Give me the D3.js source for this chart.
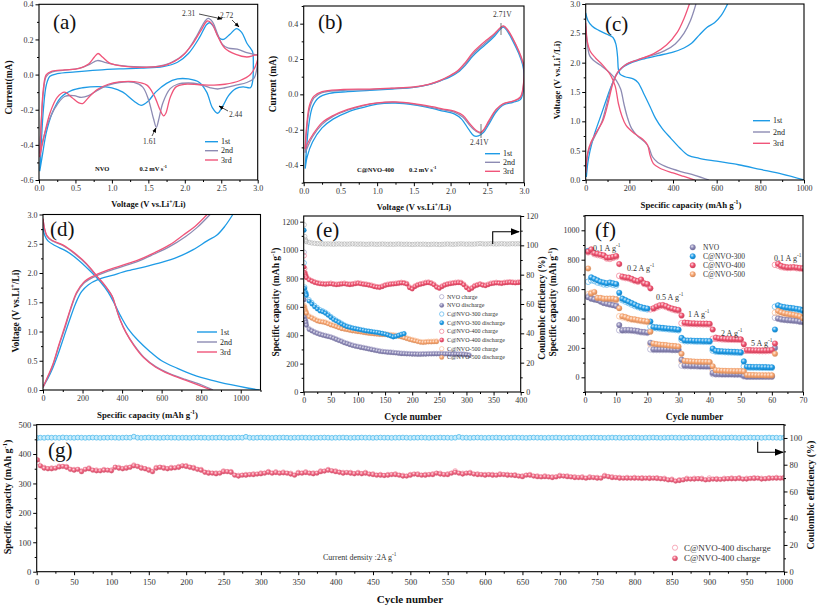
<!DOCTYPE html>
<html><head><meta charset="utf-8">
<script src="https://cdn.jsdelivr.net/npm/d3@7/dist/d3.min.js"></script>
<style>
body{margin:0;background:#fff}
svg{display:block}
text{font-family:"Liberation Serif","Times New Roman",serif}
</style></head>
<body><svg id="c" width="817" height="606" viewBox="0 0 817 606"></svg>
<script>
// ---------------- DATA ----------------
// (a) CV of NVO: [voltage, current]
const cvA1 = [[0.01,-0.55],[0.03,-0.40],[0.06,-0.2],[0.1,-0.06],[0.15,-0.01],[0.25,0.005],[0.5,0.015],[0.8,0.025],[1.1,0.032],[1.4,0.037],[1.7,0.045],[1.9,0.07],[2.05,0.12],[2.2,0.21],[2.3,0.285],[2.34,0.295],[2.4,0.27],[2.47,0.21],[2.53,0.2],[2.62,0.23],[2.71,0.262],[2.78,0.24],[2.85,0.18],[2.9,0.15],[2.93,0.13],[2.94,0.05],[2.93,-0.04],
  [2.9,-0.075],[2.8,-0.07],[2.7,-0.08],[2.6,-0.12],[2.52,-0.18],[2.45,-0.22],[2.38,-0.19],[2.3,-0.1],[2.2,-0.045],[2.05,-0.025],[1.9,-0.025],[1.75,-0.05],[1.6,-0.1],[1.5,-0.15],[1.4,-0.175],[1.3,-0.15],[1.15,-0.1],[1.0,-0.075],[0.8,-0.068],[0.6,-0.075],[0.45,-0.09],[0.3,-0.13],[0.18,-0.22],[0.1,-0.33],[0.05,-0.45],[0.01,-0.55]];
const cvA2 = [[0.01,-0.45],[0.03,-0.28],[0.06,-0.1],[0.1,-0.01],[0.18,0.015],[0.35,0.025],[0.55,0.035],[0.7,0.06],[0.8,0.08],[0.9,0.07],[1.05,0.055],[1.3,0.045],[1.6,0.045],[1.8,0.065],[2.0,0.12],[2.15,0.21],[2.27,0.3],[2.32,0.32],[2.38,0.3],[2.45,0.23],[2.52,0.17],[2.6,0.15],[2.72,0.145],[2.85,0.125],[2.95,0.115],[3.0,0.11],
  [2.99,0.04],[2.95,-0.02],[2.85,-0.045],[2.7,-0.06],[2.55,-0.075],[2.45,-0.082],[2.35,-0.075],[2.2,-0.055],[2.05,-0.048],[1.9,-0.055],[1.8,-0.08],[1.7,-0.16],[1.64,-0.26],[1.61,-0.30],[1.57,-0.25],[1.5,-0.14],[1.42,-0.07],[1.3,-0.045],[1.1,-0.045],[0.95,-0.06],[0.8,-0.09],[0.68,-0.12],[0.58,-0.13],[0.48,-0.12],[0.35,-0.125],[0.22,-0.19],[0.12,-0.28],[0.05,-0.38],[0.01,-0.45]];
const cvA3 = [[0.01,-0.47],[0.03,-0.28],[0.06,-0.08],[0.1,0.0],[0.18,0.02],[0.35,0.027],[0.55,0.035],[0.68,0.06],[0.76,0.1],[0.81,0.12],[0.87,0.1],[0.97,0.065],[1.15,0.048],[1.5,0.042],[1.75,0.055],[1.95,0.1],[2.1,0.17],[2.22,0.25],[2.31,0.305],[2.37,0.29],[2.45,0.22],[2.55,0.15],[2.7,0.115],[2.85,0.1],[3.0,0.11],
  [2.98,0.06],[2.9,0.0],[2.75,-0.035],[2.55,-0.055],[2.4,-0.06],[2.2,-0.058],[2.0,-0.055],[1.88,-0.07],[1.8,-0.13],[1.74,-0.22],[1.71,-0.235],[1.66,-0.2],[1.58,-0.12],[1.48,-0.06],[1.3,-0.04],[1.1,-0.042],[0.95,-0.055],[0.8,-0.085],[0.68,-0.13],[0.6,-0.165],[0.54,-0.16],[0.45,-0.13],[0.35,-0.1],[0.25,-0.13],[0.15,-0.22],[0.07,-0.35],[0.01,-0.47]];
// (b) CV of C@NVO-400
const cvB1 = [[0.02,-0.42],[0.04,-0.3],[0.07,-0.17],[0.12,-0.07],[0.2,-0.02],[0.35,0.005],[0.6,0.015],[0.9,0.022],[1.2,0.03],[1.5,0.04],[1.7,0.055],[1.85,0.075],[2.0,0.1],[2.1,0.125],[2.2,0.165],[2.3,0.215],[2.4,0.255],[2.5,0.29],[2.6,0.33],[2.68,0.37],[2.72,0.38],[2.77,0.36],[2.85,0.3],[2.93,0.23],[2.98,0.17],[3.0,0.12],
  [2.99,0.02],[2.95,-0.03],[2.85,-0.045],[2.72,-0.06],[2.62,-0.1],[2.52,-0.17],[2.45,-0.215],[2.38,-0.235],[2.32,-0.235],[2.25,-0.2],[2.15,-0.14],[2.05,-0.11],[1.9,-0.095],[1.75,-0.08],[1.5,-0.06],[1.25,-0.05],[1.0,-0.055],[0.8,-0.075],[0.6,-0.1],[0.4,-0.14],[0.25,-0.19],[0.12,-0.27],[0.05,-0.35],[0.02,-0.42]];
const cvB2 = [[0.02,-0.33],[0.04,-0.2],[0.08,-0.08],[0.14,-0.02],[0.25,0.01],[0.5,0.022],[0.9,0.027],[1.2,0.033],[1.5,0.04],[1.7,0.055],[1.85,0.075],[2.0,0.105],[2.1,0.13],[2.2,0.17],[2.3,0.225],[2.4,0.265],[2.5,0.3],[2.6,0.34],[2.68,0.375],[2.72,0.385],[2.77,0.365],[2.85,0.31],[2.93,0.24],[2.98,0.18],[3.0,0.15],
  [2.99,0.04],[2.95,-0.02],[2.85,-0.04],[2.72,-0.055],[2.62,-0.09],[2.52,-0.16],[2.45,-0.205],[2.41,-0.22],[2.35,-0.21],[2.27,-0.18],[2.17,-0.13],[2.05,-0.1],[1.9,-0.088],[1.75,-0.075],[1.5,-0.055],[1.25,-0.045],[1.0,-0.05],[0.8,-0.065],[0.6,-0.09],[0.4,-0.125],[0.25,-0.17],[0.12,-0.24],[0.05,-0.3],[0.02,-0.33]];
const cvB3 = [[0.02,-0.31],[0.04,-0.18],[0.08,-0.06],[0.14,-0.01],[0.25,0.015],[0.5,0.027],[0.9,0.03],[1.2,0.035],[1.5,0.042],[1.7,0.057],[1.85,0.078],[2.0,0.108],[2.1,0.135],[2.2,0.18],[2.3,0.235],[2.4,0.275],[2.5,0.31],[2.6,0.345],[2.68,0.378],[2.72,0.387],[2.77,0.37],[2.85,0.315],[2.93,0.245],[2.98,0.19],[3.0,0.16],
  [2.99,0.05],[2.95,-0.015],[2.85,-0.038],[2.72,-0.052],[2.62,-0.085],[2.52,-0.15],[2.45,-0.2],[2.41,-0.215],[2.35,-0.205],[2.27,-0.17],[2.17,-0.12],[2.05,-0.095],[1.9,-0.083],[1.75,-0.07],[1.5,-0.052],[1.25,-0.043],[1.0,-0.048],[0.8,-0.062],[0.6,-0.085],[0.4,-0.12],[0.25,-0.16],[0.12,-0.23],[0.05,-0.28],[0.02,-0.31]];
// (c) GCD of NVO: [capacity, voltage]
const c1Dis = [[0,2.85],[10,2.72],[30,2.62],[60,2.55],[100,2.48],[125,2.43],[138,2.32],[146,2.1],[150,1.88],[158,1.8],[180,1.76],[220,1.72],[240,1.66],[265,1.48],[295,1.25],[320,1.05],[350,0.88],[390,0.71],[430,0.55],[470,0.42],[520,0.37],[600,0.32],[700,0.26],[800,0.18],[900,0.1],[1000,0.0]];
const c1Chg = [[3,0.05],[10,0.3],[20,0.5],[40,0.78],[65,1.05],[90,1.32],[115,1.58],[140,1.79],[170,1.92],[210,2.0],[260,2.06],[330,2.12],[400,2.18],[450,2.25],[485,2.33],[520,2.47],[555,2.6],[590,2.68],[620,2.8],[650,3.0]];
const c2Dis = [[0,2.62],[8,2.3],[18,2.12],[35,2.04],[70,1.95],[110,1.83],[140,1.7],[160,1.55],[175,1.3],[190,1.08],[210,0.88],[240,0.74],[270,0.65],[290,0.55],[305,0.4],[330,0.3],[380,0.21],[440,0.14],[500,0.08],[565,0.0]];
const c2Chg = [[0,0.15],[10,0.45],[25,0.62],[50,0.8],[75,1.0],[100,1.35],[120,1.62],[145,1.83],[180,1.96],[230,2.04],[300,2.12],[360,2.2],[410,2.32],[450,2.5],[480,2.72],[505,3.0]];
const c3Dis = [[0,2.68],[8,2.35],[20,2.2],[45,2.08],[80,1.95],[115,1.78],[135,1.6],[150,1.3],[165,1.1],[185,0.93],[220,0.8],[260,0.7],[283,0.6],[295,0.42],[310,0.28],[340,0.2],[400,0.12],[450,0.06],[500,0.0]];
const c3Chg = [[0,0.12],[10,0.48],[25,0.65],[50,0.82],[80,1.02],[105,1.35],[125,1.65],[150,1.85],[185,1.97],[240,2.05],[310,2.15],[370,2.3],[420,2.52],[450,2.75],[475,3.0]];
// (d) GCD of C@NVO-400
const d1Dis = [[0,2.78],[8,2.65],[25,2.55],[60,2.47],[120,2.37],[180,2.22],[240,2.03],[290,1.85],[330,1.67],[365,1.45],[395,1.25],[430,1.05],[480,0.85],[540,0.66],[600,0.5],[680,0.37],[760,0.26],[850,0.17],[950,0.09],[1040,0.03],[1095,0.0]];
const d1Chg = [[0,0.06],[25,0.2],[50,0.38],[75,0.6],[105,0.9],[135,1.2],[165,1.48],[195,1.68],[230,1.8],[280,1.89],[350,1.96],[430,2.04],[520,2.11],[600,2.18],[680,2.27],[760,2.4],[830,2.55],[880,2.65],[920,2.8],[960,3.0]];
const d2Dis = [[0,2.92],[8,2.75],[20,2.63],[45,2.55],[100,2.47],[160,2.33],[220,2.15],[270,1.95],[320,1.75],[350,1.6],[370,1.4],[390,1.2],[420,0.98],[460,0.77],[510,0.56],[570,0.4],[640,0.28],[720,0.18],[800,0.09],[860,0.0]];
const d2Chg = [[0,0.04],[25,0.22],[50,0.42],[80,0.75],[110,1.05],[140,1.38],[170,1.65],[205,1.82],[250,1.92],[320,2.02],[400,2.11],[480,2.2],[560,2.32],[640,2.45],[720,2.62],[780,2.78],[845,3.0]];
const d3Dis = [[0,2.93],[8,2.76],[20,2.64],[45,2.56],[100,2.48],[160,2.34],[220,2.16],[270,1.96],[320,1.76],[350,1.6],[370,1.4],[390,1.2],[420,0.98],[460,0.76],[510,0.55],[570,0.39],[640,0.27],[720,0.17],[790,0.08],[850,0.0]];
const d3Chg = [[0,0.05],[25,0.24],[50,0.44],[80,0.77],[110,1.08],[140,1.4],[170,1.67],[205,1.84],[250,1.94],[320,2.04],[400,2.13],[480,2.22],[560,2.34],[640,2.48],[710,2.65],[770,2.8],[830,3.0]];
const cycleLegend = ["1st","2nd","3rd"];

// (e) cycling at 0.1 A/g
const eCyc = [1,2,3,4,5].concat(d3.range(10,401,5));
const eCE = [114,106,104,103,102.5,102,101.6,101.4,101.2,101.1,
 101,100.9,101,100.9,100.8,100.9,101,100.8,100.9,100.8,
 100.9,101,100.9,100.8,100.9,100.8,100.7,100.8,100.9,100.8,
 100.7,100.8,100.9,100.8,100.7,100.8,100.7,100.8,100.9,100.8,
 100.7,100.8,100.7,100.6,100.7,100.8,100.7,100.8,100.7,100.6,
 100.7,100.8,100.7,100.6,100.7,100.8,100.9,100.8,100.7,100.8,
 100.9,101,100.9,100.8,100.9,100.8,100.9,101,101.2,101,
 100.9,101,101.1,101,100.9,101,101.1,101,100.9,101,
 101.1,101,101.1,101];
const eNVOdis = [650,530,505,490,470, 440,430,420,412,405,400,395,390,385,378,370,362,355,346,340,333,327,322,318,314,310,306,302,298,294,290,286,283,281,279,278,276,274,272,270,269,268,267,266,266,265,265,266,266,267,267,268,268,268,268,267,267,266,266,266,265,265,264,262,258];
const eNVOchg = [985,560,515,498,478, 446,435,425,417,410,404,399,394,389,382,374,366,359,350,344,337,331,326,322,318,314,310,306,302,298,294,290,287,285,283,282,280,278,276,274,273,272,271,270,270,269,269,270,270,271,271,272,272,272,272,271,271,270,270,270,269,269,268,266,262];
const eC300dis = [1140,730,700,690,680, 640,620,600,585,570,565,555,540,525,510,500,490,478,468,460,455,450,446,442,438,434,430,428,425,422,420,416,412,408,402,395,388,392,398,405,410];
const eC300chg = [910,740,710,700,690, 650,630,610,595,580,572,562,548,532,518,506,495,484,472,464,458,452,448,444,440,436,432,429,426,423,420,417,413,409,404,397,390,394,400,407,412];
const eC400dis = [880,840,825,815,805,
 790,780,772,766,762,760,758,760,762,758,
 755,757,760,762,758,756,758,762,765,762,
 758,756,752,748,742,738,736,742,750,755,
 758,760,762,765,768,766,760,735,725,742,
 752,758,762,768,770,765,755,738,730,742,
 752,758,762,765,768,770,768,755,735,720,
 730,745,752,758,752,748,755,762,765,768,
 766,764,768,770,772,770,768,770,772];
const eC400chg = [960,870,840,825,812,
 795,785,777,771,767,765,763,765,767,763,
 760,762,765,767,763,761,763,767,770,767,
 763,761,757,753,747,743,741,747,755,760,
 763,765,767,770,773,771,765,740,730,747,
 757,763,767,773,775,770,760,743,735,747,
 757,763,767,770,773,775,773,760,740,725,
 735,750,757,763,757,753,760,767,770,773,
 771,769,773,775,777,775,773,775,777];
const eC500dis = [600,580,570,560,555, 530,520,510,500,495,492,488,480,472,466,460,452,446,442,438,434,430,428,425,422,419,416,413,411,409,407,405,404,403,402,400,398,395,392,388,382,376,370,365,360,355,350,348,350,352,352,353,354];
const eC500chg = [610,600,585,570,562, 536,526,516,506,500,497,493,485,477,471,465,457,451,447,443,439,435,433,430,427,424,421,418,416,414,412,410,409,408,407,405,403,400,397,393,387,381,375,370,365,360,355,353,355,357,357,358,359];
const eLegend = ["NVO charge","NVO discharge","C@NVO-300 charge","C@NVO-300 discharge","C@NVO-400 charge","C@NVO-400 discharge","C@NVO-500 charge","C@NVO-500 discharge"];

// (f) rate performance, cycles 1..70
const fCyc = d3.range(1,71);
const fNVOdis = [545,535,530,525,515,505,500,495,490,485, 355,320,322,322,320,318,315,310,308,305, 235,190,190,190,190,190,190,188,188,188, 120,80,80,78,78,77,76,76,75,75, 30,22,22,21,21,21,21,20,20,20, 10,5,5,5,5,5,5,5,5,5, 200,400,395,392,390,388,386,384,380,378];
const fNVOchg = [550,540,532,528,520,510,505,500,495,490, 320,318,318,318,316,314,310,306,304,302, 190,186,186,186,186,186,186,185,185,185, 80,76,76,75,75,74,73,73,72,72, 22,20,20,19,19,19,19,18,18,18, 6,4,4,4,4,4,4,4,4,4, 405,398,392,390,388,386,384,382,378,375];
const fC300dis = [860,680,670,660,650,645,640,645,640,635, 575,535,525,515,505,495,485,478,472,468, 380,342,340,338,336,334,332,330,328,325, 268,252,250,250,249,248,248,247,247,246, 195,180,178,177,176,175,174,173,172,170, 108,72,71,70,70,70,69,69,68,68, 325,490,482,478,475,472,470,466,462,455];
const fC300chg = [650,660,655,645,640,632,630,635,630,625, 540,525,515,505,495,485,478,470,466,462, 345,336,334,332,330,328,326,324,322,320, 255,246,245,245,244,243,243,242,242,241, 182,175,173,172,171,170,169,168,167,166, 75,67,66,66,66,65,65,65,64,64, 480,485,476,472,469,466,464,460,456,450];
const fC400dis = [855,870,845,840,835,830,815,815,820,825, 770,685,680,678,670,660,655,665,640,635, 605,470,482,490,492,485,475,468,462,458, 420,372,370,368,367,366,366,365,365,364, 325,270,266,264,262,261,260,260,259,258, 225,186,185,184,184,183,183,183,184,186, 230,772,758,752,748,748,750,747,744,742];
const fC400chg = [850,855,838,832,828,822,808,805,812,818, 690,680,675,672,664,655,650,655,635,630, 462,465,475,483,485,478,470,462,456,452, 368,366,364,362,362,361,361,360,360,359, 262,262,260,258,257,256,256,255,255,254, 180,180,180,179,179,178,178,178,179,180, 765,760,750,746,744,744,745,742,740,738];
const fC500dis = [740,570,580,540,540,535,535,535,535,530, 470,415,410,402,396,394,390,386,383,380, 310,230,226,223,221,219,216,214,212,210, 160,112,110,108,107,106,106,105,105,104, 75,48,46,45,44,43,43,42,42,42, 40,16,15,15,14,14,14,13,13,13, 160,452,442,436,432,428,425,420,415,402];
const fC500chg = [565,575,555,530,532,528,528,530,530,525, 415,408,404,396,392,390,386,382,379,376, 225,222,220,218,216,214,212,210,208,206, 110,108,106,105,104,103,103,102,102,101, 48,45,43,42,41,40,40,39,39,39, 15,13,12,12,12,11,11,11,11,11, 440,440,432,428,424,420,418,414,410,398];
const fLegend = ["NVO","C@NVO-300","C@NVO-400","C@NVO-500"];
const fRates = ["0.1 A g^{-1}","0.2 A g^{-1}","0.5 A g^{-1}","1 A g^{-1}","2 A g^{-1}","5 A g^{-1}","0.1 A g^{-1}"];

// (g) long cycling at 2 A/g
const gCyc = [1].concat(d3.range(5,1001,5));
const gChg = [380,
 360,352,350,350,352,356,358,355,348,345,348,340,348,350,345,343,343,345,345,343,
 355,352,350,352,355,360,358,352,350,345,340,352,355,352,350,352,353,355,360,358,
 355,352,348,345,338,335,335,333,335,340,340,338,328,325,328,328,330,330,332,333,
 335,338,335,337,335,336,335,332,328,335,335,337,335,333,335,340,342,345,343,340,
 338,335,337,335,333,335,333,335,332,330,328,328,327,328,330,330,328,325,325,328,
 332,330,328,328,330,330,335,332,330,330,335,338,335,332,335,335,332,330,330,328,
 330,328,328,330,330,328,328,327,325,323,328,328,325,323,322,323,322,320,322,325,
 325,323,322,320,320,320,318,320,320,318,318,325,323,320,320,318,318,318,318,318,
 318,317,318,317,318,317,316,315,312,312,308,310,312,315,315,315,316,315,312,313,
 315,314,314,315,316,316,316,317,315,315,317,317,318,315,316,317,318,318,318,318];
const gDisCyc = [1].concat(d3.range(10,1001,10));
const gDis = [372,354,352,358,357,347,342,352,345,347,345,354,354,362,354,347,354,354,354,357,360,
 354,347,337,335,342,340,327,330,332,335,340,339,338,334,337,339,335,342,347,342,
 337,337,337,337,332,330,330,332,327,330,332,330,332,334,332,342,334,337,332,330,
 330,332,330,329,325,330,325,325,322,327,325,322,322,322,320,327,322,320,320,320,
 319,319,319,317,314,312,317,317,317,318,316,317,318,319,317,319,317,319,320,320];
const gCE = [100.0,
 100.2,100.1,100.3,100.2,100.2,100.1,100.4,100.2,100.2,100.1,100.3,100.2,100.1,100.2,100.3,100.2,100.1,100.2,100.2,100.3,
 100.2,100.1,100.2,100.3,100.2,101.0,100.2,100.1,100.2,100.3,100.2,100.2,100.1,100.2,100.3,100.2,100.2,100.1,100.2,100.2,
 100.1,100.2,100.3,100.2,100.2,100.1,100.2,100.2,100.3,100.2,100.1,100.2,100.2,100.3,100.2,100.9,100.2,100.1,100.2,100.3,
 100.2,100.2,100.1,100.2,100.2,100.3,100.2,100.1,100.2,100.2,100.3,100.2,100.2,100.1,100.2,100.2,100.3,100.2,100.1,100.2,
 100.2,100.3,100.2,100.1,100.2,100.2,100.3,100.2,100.2,100.1,100.2,100.3,100.2,100.2,100.1,100.2,100.2,100.3,100.2,100.1,
 100.2,100.2,100.3,100.2,100.1,100.2,100.2,100.3,100.2,100.2,100.1,100.2,100.8,100.2,100.2,100.1,100.2,100.3,100.2,100.1,
 100.2,100.2,100.3,100.2,100.1,100.2,100.2,100.3,100.2,100.2,100.1,100.2,100.3,100.2,100.2,100.1,100.2,100.2,100.3,100.2,
 100.1,100.2,100.2,100.3,100.2,100.1,100.2,100.2,100.3,100.2,100.2,100.1,100.2,100.3,100.2,100.2,100.1,100.2,100.2,100.3,
 100.2,100.1,100.2,100.2,100.3,100.2,100.1,100.2,100.2,100.3,100.2,100.2,100.1,100.2,100.3,100.2,100.2,100.1,100.2,100.2,
 100.3,100.2,100.1,100.2,100.2,100.3,100.2,100.1,100.2,100.2,100.3,100.2,100.2,100.1,100.2,100.3,100.2,100.2,100.1,100.2];
const gLegend = ["C@NVO-400 discharge","C@NVO-400 charge"];

// tick values
const tA_x=[0,0.5,1,1.5,2,2.5,3], tA_y=[-0.6,-0.4,-0.2,0,0.2,0.4];
const tB_y=[-0.4,-0.2,0,0.2,0.4];
const tC_x=[0,200,400,600,800,1000], tV=[0,0.5,1,1.5,2,2.5,3];
const tE_x=[0,50,100,150,200,250,300,350,400], tE_y=[0,200,400,600,800,1000,1200], tE_y2=[0,20,40,60,80,100,120];
const tF_x=[0,10,20,30,40,50,60,70], tF_y=[0,200,400,600,800,1000];
const tG_x=d3.range(0,1001,50), tG_y=[0,100,200,300,400,500], tG_y2=[0,20,40,60,80,100];

// ---------------- DRAWING ----------------
const COL = {b1:'#1E9BE6', g2:'#8D8BB3', p3:'#F0557A', nvo:'#8A86B6', c300:'#1E9CE8', c400:'#F0506E', c500:'#F8A46E', ce:'#9B9B9B', gBlue:'#4FBBEE', gPink:'#F0627F'};
const FONT='"Liberation Serif","Times New Roman",serif';
const svg=d3.select('#c');
svg.append('rect').attr('width',817).attr('height',606).attr('fill','#fff');
const defs=svg.append('defs');
['nvo','c300','c400','c500','gPink'].forEach(k=>{
  const gr=defs.append('radialGradient').attr('id','grad-'+k).attr('cx','0.38').attr('cy','0.34').attr('r','0.7');
  gr.append('stop').attr('offset','0').attr('stop-color',d3.interpolateRgb(COL[k],'#ffffff')(0.8));
  gr.append('stop').attr('offset','0.5').attr('stop-color',COL[k]);
  gr.append('stop').attr('offset','1').attr('stop-color',d3.color(COL[k]).darker(0.6).formatHex());
});
function arrowDef(id,w){
  defs.append('marker').attr('id',id).attr('viewBox','0 0 10 10').attr('refX',9).attr('refY',5)
   .attr('markerWidth',w).attr('markerHeight',w).attr('orient','auto').attr('markerUnits','userSpaceOnUse')
   .append('path').attr('d','M0,1 L10,5 L0,9 z').attr('fill','#000');
}
arrowDef('arrS',5); arrowDef('arrL',9);

function T(parent,x,y,str,fs,opt={}){
  const t=parent.append('text').attr('x',x).attr('y',y).attr('font-size',fs).attr('fill',opt.fill||'#111')
    .attr('text-anchor',opt.anchor||'start').style('font-family',FONT);
  if(opt.bold) t.attr('font-weight','bold');
  if(opt.rotate) t.attr('transform',`rotate(-90 ${x} ${y})`);
  const parts=str.split(/(\^\{[^}]*\})/); let up=false;
  parts.forEach(p=>{ if(!p) return; const m=p.match(/^\^\{(.*)\}$/);
    if(m){ t.append('tspan').attr('dy',-fs*0.4).attr('font-size',fs*0.66).text(m[1]); up=true; }
    else { const s=t.append('tspan').text(p); if(up){ s.attr('dy',fs*0.4); up=false; } } });
  return t;
}
function minors(dom,maj){ const s=(maj[1]-maj[0])/2, lo=Math.min(...dom), hi=Math.max(...dom), out=[];
  for(let v=maj[0]+Math.ceil((lo-maj[0])/s-1e-9)*s; v<=hi+1e-9; v+=s){ if(!maj.some(m=>Math.abs(m-v)<1e-9)) out.push(v); } return out; }
let clipN=0;
function panel(o){
  const x=d3.scaleLinear().domain(o.xd).range(o.xr), y=d3.scaleLinear().domain(o.yd).range(o.yr);
  const y2=o.y2d?d3.scaleLinear().domain(o.y2d).range(o.yr):null;
  const g=svg.append('g'); const id='clip'+(clipN++);
  defs.append('clipPath').attr('id',id).append('rect').attr('x',o.xr[0]).attr('y',o.yr[1]).attr('width',o.xr[1]-o.xr[0]).attr('height',o.yr[0]-o.yr[1]);
  const plot=g.append('g').attr('clip-path',`url(#${id})`);
  return {x,y,y2,g,plot,o};
}
function finish(P){
  const o=P.o, g=P.g.append('g'), fs=o.fs||8;
  g.append('rect').attr('x',o.xr[0]).attr('y',o.yr[1]).attr('width',o.xr[1]-o.xr[0]).attr('height',o.yr[0]-o.yr[1]).attr('fill','none').attr('stroke','#000').attr('stroke-width',1.1);
  const ax=(gen,scale,tr,maj,fmt,pad)=>{
    const a=g.append('g').attr('transform',tr).call(gen(scale).tickValues(maj).tickSize(3.5).tickPadding(pad).tickFormat(fmt));
    a.select('.domain').remove(); a.selectAll('line').attr('stroke','#000');
    a.selectAll('text').attr('font-size',fs).attr('fill','#333').style('font-family',FONT);
    const m=g.append('g').attr('transform',tr).call(gen(scale).tickValues(minors(scale.domain(),maj)).tickSize(2).tickFormat(''));
    m.select('.domain').remove(); m.selectAll('line').attr('stroke','#000');
  };
  ax(d3.axisBottom,P.x,`translate(0,${o.yr[0]})`,o.xt,o.xf,o.bpad||2);
  ax(d3.axisLeft,P.y,`translate(${o.xr[0]},0)`,o.yt,o.yf,2);
  if(P.y2) ax(d3.axisRight,P.y2,`translate(${o.xr[1]},0)`,o.y2t,o.y2f,2);
}
const f1=d=>d.toFixed(1), f0=d=>String(d);
function curve(P,data,color,w){
  P.plot.append('path').attr('d',d3.line().x(d=>P.x(d[0])).y(d=>P.y(d[1])).curve(d3.curveCatmullRom.alpha(0.5))(data))
   .attr('fill','none').attr('stroke',color).attr('stroke-width',w||1.3).attr('stroke-linejoin','round');
}
function lineLegend(g,x0,x1,tx,ys,labels,colors,fs){
  labels.forEach((l,i)=>{ g.append('line').attr('x1',x0).attr('x2',x1).attr('y1',ys[i]).attr('y2',ys[i]).attr('stroke',colors[i]).attr('stroke-width',1.4);
    T(g,tx,ys[i]+fs*0.33,l,fs,{fill:'#222'}); });
}
function dots(P,ys,xs,vals,color,key,filled,r){
  P.plot.append('g').selectAll('circle').data(vals).join('circle')
   .attr('cx',(d,i)=>P.x(xs[i])).attr('cy',d=>ys(d)).attr('r',r)
   .attr('fill',filled?`url(#grad-${key})`:'none')
   .attr('stroke',filled?d3.color(color).darker(0.2).formatHex():d3.interpolateRgb(color,'#fff')(0.25))
   .attr('stroke-width',filled?0.3:0.7);
}
function marker(g,x,y,color,key,filled,r){
  g.append('circle').attr('cx',x).attr('cy',y).attr('r',r).attr('fill',filled?`url(#grad-${key})`:'none')
   .attr('stroke',filled?d3.color(color).darker(0.2).formatHex():d3.interpolateRgb(color,'#fff')(0.25)).attr('stroke-width',filled?0.3:0.7);
}
const cols3=[COL.b1,COL.g2,COL.p3];

// ---- (a)
{
  const P=panel({xd:[0,3],xr:[39,257.7],yd:[-0.6,0.4],yr:[180,4.3],xt:tA_x,xf:f1,yt:tA_y,yf:f1});
  [cvA1,cvA2,cvA3].forEach((d,i)=>curve(P,d,cols3[i]));
  finish(P);
  const g=P.g;
  T(g,53,29,"(a)",21,{});
  T(g,148.5,207,"Voltage (V vs.Li^{+}/Li)",8.5,{bold:true,anchor:'middle'});
  T(g,12,87.5,"Current(mA)",9.5,{bold:true,anchor:'middle',rotate:true});
  lineLegend(g,205,218,221,[141.7,150.7,160],cycleLegend,cols3,8);
  T(g,95,170.5,"NVO",6.5,{bold:true});
  T(g,139.5,170.5,"0.2 mV s^{-1}",6.5,{bold:true});
  const ann=[["2.31",182,16,[199,14],[222,19]],["2.72",220,18,[232,20],[239,27]],["2.44",229,117,[228,111],[219,106]],["1.61",143,144,[152,136],[156,128]]];
  ann.forEach(a=>{ T(g,a[1],a[2],a[0],7.5,{fill:'#333'});
    g.append('line').attr('x1',a[3][0]).attr('y1',a[3][1]).attr('x2',a[4][0]).attr('y2',a[4][1]).attr('stroke','#000').attr('stroke-width',0.7).attr('marker-end','url(#arrS)'); });
}
// ---- (b)
{
  const P=panel({xd:[0,3],xr:[303.7,524],yd:[-0.5,0.5],yr:[182.7,6],xt:tA_x,xf:f1,yt:tB_y,yf:f1});
  [cvB1,cvB2,cvB3].forEach((d,i)=>curve(P,d,cols3[i]));
  finish(P);
  const g=P.g;
  T(g,318,29,"(b)",21,{});
  T(g,414,210,"Voltage (V vs.Li^{+}/Li)",8.5,{bold:true,anchor:'middle'});
  T(g,276,84,"Current (mA)",9.5,{bold:true,anchor:'middle',rotate:true});
  lineLegend(g,485,500,503,[153.7,162.3,171.3],cycleLegend,cols3,8);
  T(g,357,171.5,"C@NVO-400",6.5,{bold:true});
  T(g,409,171.5,"0.2 mV s^{-1}",6.5,{bold:true});
  T(g,493,17,"2.71V",7.5,{fill:'#333'});
  T(g,470,145,"2.41V",7.5,{fill:'#333'});
  g.append('line').attr('x1',501).attr('x2',501).attr('y1',23).attr('y2',35).attr('stroke','#555').attr('stroke-width',0.8);
  g.append('line').attr('x1',481).attr('x2',481).attr('y1',124).attr('y2',138).attr('stroke','#555').attr('stroke-width',0.8);
}
// ---- (c)
{
  const P=panel({xd:[0,1000],xr:[585.7,804],yd:[0,3],yr:[180,4],xt:tC_x,xf:f0,yt:tV,yf:f1});
  [[c1Dis,c1Chg],[c2Dis,c2Chg],[c3Dis,c3Chg]].forEach((p,i)=>{ curve(P,p[0],cols3[i]); curve(P,p[1],cols3[i]); });
  finish(P);
  const g=P.g;
  T(g,605,31,"(c)",21,{});
  T(g,691,208,"Specific capacity (mAh g^{-1})",8.8,{bold:true,anchor:'middle'});
  T(g,560,80,"Voltage (V vs.Li^{+}/Li)",9,{bold:true,anchor:'middle',rotate:true});
  lineLegend(g,753,770,773,[120.7,132,143.3],cycleLegend,cols3,8);
}
// ---- (d)
{
  const P=panel({xd:[0,1100],xr:[43,260.5],yd:[0,3],yr:[390,214.5],xt:tC_x,xf:f0,yt:tV,yf:f1});
  [[d1Dis,d1Chg],[d2Dis,d2Chg],[d3Dis,d3Chg]].forEach((p,i)=>{ curve(P,p[0],cols3[i]); curve(P,p[1],cols3[i]); });
  finish(P);
  const g=P.g;
  T(g,50,236,"(d)",21,{});
  T(g,147.5,418,"Specific capacity (mAh g^{-1})",8.8,{bold:true,anchor:'middle'});
  T(g,19,311,"Voltage (V vs.Li^{+}/Li)",9.5,{bold:true,anchor:'middle',rotate:true});
  lineLegend(g,197,217,220,[332,342,352],cycleLegend,cols3,8);
}
// ---- (e)
{
  const P=panel({xd:[0,400],xr:[303.7,520.7],yd:[0,1240],yr:[392,216],y2d:[0,120],xt:tE_x,xf:f0,yt:tE_y,yf:f0,y2t:tE_y2,y2f:f0});
  const r=2.2;
  dots(P,P.y2,eCyc,eCE,COL.ce,null,false,r);
  dots(P,P.y,eCyc,eNVOchg,COL.nvo,'nvo',false,r);
  dots(P,P.y,eCyc,eNVOdis,COL.nvo,'nvo',true,r);
  dots(P,P.y,eCyc,eC500chg,COL.c500,'c500',false,r);
  dots(P,P.y,eCyc,eC500dis,COL.c500,'c500',true,r);
  dots(P,P.y,eCyc,eC300chg,COL.c300,'c300',false,r);
  dots(P,P.y,eCyc,eC300dis,COL.c300,'c300',true,r);
  dots(P,P.y,eCyc,eC400chg,COL.c400,'c400',false,r);
  dots(P,P.y,eCyc,eC400dis,COL.c400,'c400',true,r);
  finish(P);
  const g=P.g;
  T(g,316,237,"(e)",21,{});
  T(g,413,419.5,"Cycle number",9.5,{bold:true,anchor:'middle'});
  T(g,279.3,302,"Specific capacity (mAh g^{-1})",9.5,{bold:true,anchor:'middle',rotate:true});
  T(g,545,308,"Coulombic efficiency (%)",9.5,{bold:true,anchor:'middle',rotate:true});
  const lk=[['nvo',false],['nvo',true],['c300',false],['c300',true],['c400',false],['c400',true],['c500',false],['c500',true]];
  eLegend.forEach((l,i)=>{ const yy=296.7+i*8.67; marker(g,441.7,yy,COL[lk[i][0]],lk[i][0],lk[i][1],2.2); T(g,447,yy+2,l,6,{fill:'#333'}); });
  g.append('path').attr('d','M492.7,244 V231.7 H519').attr('fill','none').attr('stroke','#000').attr('stroke-width',1.1).attr('marker-end','url(#arrL)');
}
// ---- (f)
{
  const P=panel({xd:[0,70],xr:[585,803],yd:[-100,1100],yr:[392,215.6],xt:tF_x,xf:f0,yt:tF_y,yf:f0});
  const r=2.8;
  const S=[['nvo',fNVOchg,fNVOdis],['c300',fC300chg,fC300dis],['c400',fC400chg,fC400dis],['c500',fC500chg,fC500dis]];
  S.forEach(s=>dots(P,P.y,fCyc,s[1],COL[s[0]],s[0],false,r));
  S.forEach(s=>dots(P,P.y,fCyc,s[2],COL[s[0]],s[0],true,r));
  finish(P);
  const g=P.g;
  T(g,595,237,"(f)",21,{});
  T(g,694.5,419.5,"Cycle number",9.5,{bold:true,anchor:'middle'});
  T(g,555.5,302,"Specific capacity (mAh g^{-1})",9.5,{bold:true,anchor:'middle',rotate:true});
  fLegend.forEach((l,i)=>{ const yy=247.3+i*9; marker(g,692.7,yy,COL[S[i][0]],S[i][0],true,2.8); T(g,703,yy+2.6,l,7.5,{fill:'#333'}); });
  const rp=[[593,250.5],[627,270.5],[656,299.5],[688,316.5],[721,335.5],[751,345.5],[774,260.5]];
  fRates.forEach((t,i)=>T(g,rp[i][0],rp[i][1],t,8,{fill:'#333'}));
}
// ---- (g)
{
  const P=panel({xd:[0,1000],xr:[36.7,784],yd:[0,500],yr:[571.7,424.6],y2d:[0,110],xt:tG_x,xf:f0,yt:tG_y,yf:f0,y2t:tG_y2,y2f:f0,fs:8.5,bpad:3.5});
  P.plot.append('g').selectAll('circle').data(gCE).join('circle')
    .attr('cx',(d,i)=>P.x(gCyc[i])).attr('cy',d=>P.y2(d)).attr('r',2.4)
    .attr('fill','#C9ECFB').attr('stroke',COL.gBlue).attr('stroke-width',0.8);
  dots(P,P.y,gDisCyc,gDis,COL.gPink,'gPink',false,2.4);
  dots(P,P.y,gCyc,gChg,COL.gPink,'gPink',true,2.4);
  finish(P);
  const g=P.g;
  T(g,48,457,"(g)",21,{});
  T(g,410,603,"Cycle number",11,{bold:true,anchor:'middle'});
  T(g,11,497,"Specific capacity (mAh g^{-1})",10,{bold:true,anchor:'middle',rotate:true});
  T(g,813.5,495,"Coulombic efficiency (%)",10,{bold:true,anchor:'middle',rotate:true});
  T(g,323,559.5,"Current density :2A g^{-1}",8,{fill:'#333'});
  marker(g,675,547.7,COL.gPink,'gPink',false,2.6); T(g,684,550.7,gLegend[0],9,{fill:'#333'});
  marker(g,675,558.3,COL.gPink,'gPink',true,2.6); T(g,684,561.3,gLegend[1],9,{fill:'#333'});
  g.append('path').attr('d','M757.7,441.7 V452.3 H783').attr('fill','none').attr('stroke','#000').attr('stroke-width',1.1).attr('marker-end','url(#arrL)');
}
</script></body></html>
